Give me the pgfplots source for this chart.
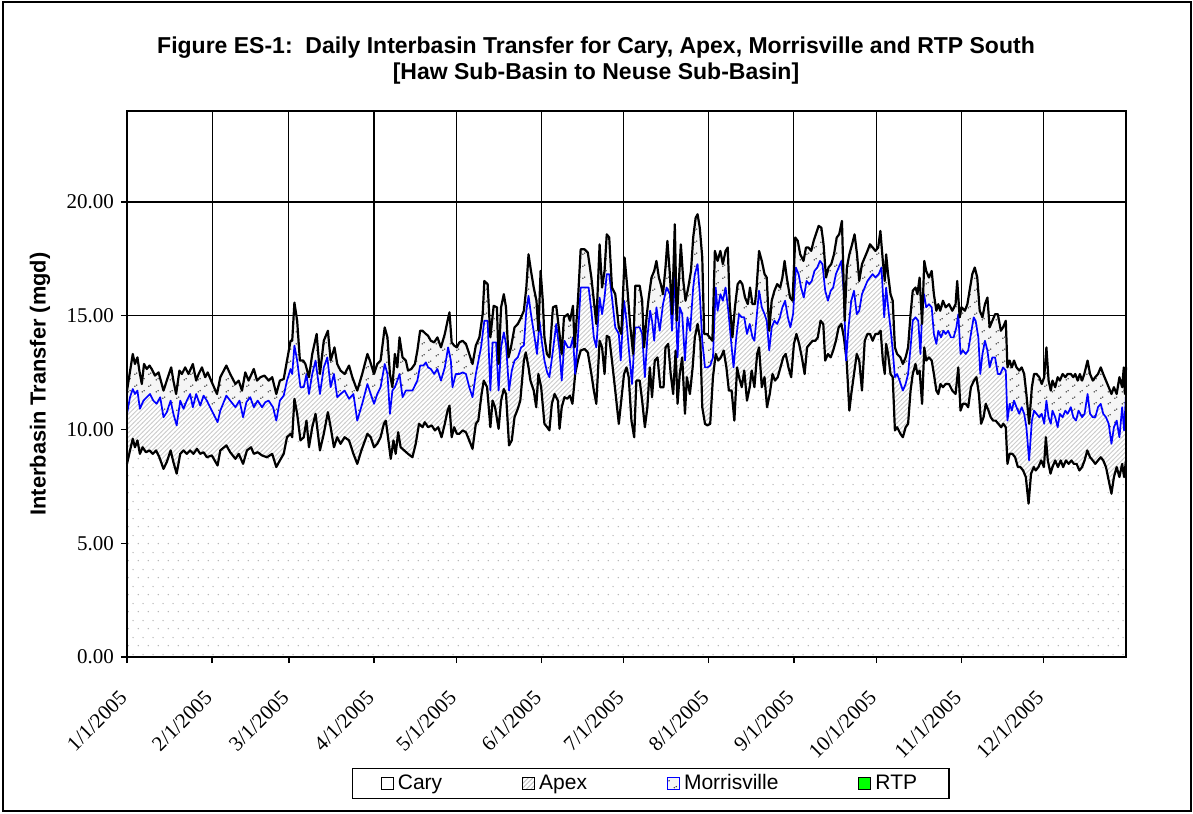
\documentclass[border=0pt]{standalone}
\usepackage{fontspec}
\setmainfont{Liberation Serif}
\setsansfont{Liberation Sans}
\usepackage{pgfplots}
\pgfplotsset{compat=1.18}
\usepackage{pgfplotstable}
\usetikzlibrary{patterns}

\pgfdeclarepatternformonly{carydots}{\pgfqpoint{0bp}{0bp}}{\pgfqpoint{4.85bp}{8.3bp}}{\pgfqpoint{4.85bp}{8.3bp}}{%
  \pgfpathcircle{\pgfqpoint{1.2bp}{1.2bp}}{0.38bp}%
  \pgfpathcircle{\pgfqpoint{3.625bp}{5.35bp}}{0.38bp}%
  \pgfusepath{fill}}
\pgfdeclarepatternformonly{apexhatch}{\pgfqpoint{-0.5bp}{-0.5bp}}{\pgfqpoint{2.8bp}{2.8bp}}{\pgfqpoint{2.3bp}{2.3bp}}{%
  \pgfsetlinewidth{0.45bp}%
  \pgfpathmoveto{\pgfqpoint{-0.1bp}{-0.1bp}}%
  \pgfpathlineto{\pgfqpoint{2.4bp}{2.4bp}}%
  \pgfusepath{stroke}}
\pgfdeclarepatternformonly{morrmarks}{\pgfqpoint{0bp}{0bp}}{\pgfqpoint{7bp}{6bp}}{\pgfqpoint{7bp}{6bp}}{%
  \pgfpathcircle{\pgfqpoint{1.2bp}{1.2bp}}{0.4bp}%
  \pgfpathcircle{\pgfqpoint{2.2bp}{1.8bp}}{0.4bp}%
  \pgfpathcircle{\pgfqpoint{4.7bp}{4.2bp}}{0.4bp}%
  \pgfpathcircle{\pgfqpoint{5.7bp}{4.8bp}}{0.4bp}%
  \pgfusepath{fill}}

% cumulative: Cary + Apex + Morrisville (+RTP)
\pgfplotstableread{
day val
0 11.71
2.1 13.32
2.9 12.88
3.8 13.17
4.5 12.59
5.4 12.00
6.2 12.88
7.2 12.66
8.2 12.81
9.0 12.66
10.2 12.37
11.5 12.51
13.3 11.71
14.5 12.15
16.1 12.73
16.9 12.15
17.9 11.56
19.1 12.59
20.0 12.44
21.2 12.73
22.4 12.44
24.0 12.88
25.2 12.15
26.1 12.44
27.3 12.73
28.5 12.30
29.4 12.51
30.9 12.08
32.8 11.56
34.0 12.30
36.2 12.81
37.6 12.44
39.5 12.00
40.7 12.15
41.9 11.71
43.1 12.51
44.3 12.15
46.2 12.66
47.4 12.15
48.6 12.30
50.1 12.37
51.6 12.15
52.9 12.30
54.4 11.56
55.7 12.15
57.1 12.22
58.3 13.03
59.6 13.90
60.2 13.90
61.0 15.58
62.0 14.78
63.0 13.03
64.2 13.03
65.0 12.88
66.3 12.30
67.5 13.32
69.1 14.20
70.3 12.44
71.7 13.90
73.2 14.34
74.2 13.03
75.6 13.61
76.6 12.88
77.8 12.59
79.3 12.44
80.9 12.81
82.1 12.30
83.9 11.71
85.7 12.44
87.6 13.32
88.5 13.03
90.0 12.44
91.2 12.88
92.4 13.03
93.9 14.49
94.9 14.05
95.8 12.44
96.7 11.86
97.6 13.32
98.5 12.73
99.3 14.05
100.4 13.17
101.6 13.03
102.4 12.59
103.6 12.66
104.9 12.88
105.8 13.47
106.8 14.34
107.7 14.34
108.9 14.20
109.7 14.12
110.7 13.90
111.9 13.83
113.1 14.05
114.4 13.61
115.8 14.20
116.8 14.78
117.5 15.15
118.3 13.83
119.2 13.69
120.2 13.61
121.1 13.83
122.3 13.90
123.5 13.76
124.7 13.32
125.9 12.88
127.1 13.69
128.4 14.05
129.6 15.07
130.2 16.53
131.4 16.39
132.4 14.05
133.6 15.44
134.8 15.37
135.4 12.88
136.3 15.37
137.3 15.95
138.1 15.37
139.0 13.17
139.9 13.61
141.2 14.49
142.4 14.64
143.6 14.93
144.6 15.22
145.5 16.24
146.3 17.70
147.2 16.97
148.2 16.24
149.2 15.66
149.9 14.34
150.7 16.97
151.5 15.66
152.1 14.05
153.0 13.32
153.9 13.17
155.2 15.37
156.4 15.44
157.6 14.20
158.4 13.32
159.2 14.93
160.6 15.07
161.4 14.78
162.5 15.44
163.1 13.61
164.3 15.66
165.3 17.92
166.7 17.92
167.9 17.78
169.2 16.68
170.1 15.66
171.0 14.64
172.2 18.14
173.1 16.24
174.0 16.97
174.8 18.58
175.7 18.44
176.7 16.24
177.9 15.95
179.2 14.49
180.1 14.20
181.3 17.56
182.3 16.24
183.3 14.64
184.4 13.32
185.2 16.32
186.8 16.32
187.7 15.66
188.4 13.61
189.3 14.93
190.1 15.80
191.1 16.68
192.1 16.97
192.9 17.41
193.8 16.68
194.5 16.39
195.3 15.95
196.2 17.12
196.9 18.29
197.8 16.83
198.6 15.07
199.6 19.02
200.3 14.78
201.1 16.53
201.8 18.14
202.7 16.53
203.5 15.66
204.5 16.24
205.5 16.97
206.3 18.44
207.2 19.31
207.9 19.46
208.7 18.87
209.6 17.56
210.3 14.20
211.3 14.20
212.3 14.05
213.3 13.90
214.2 17.85
215.2 17.41
216.2 17.85
217.1 17.27
218.1 17.85
218.9 18.00
219.6 15.51
220.6 14.05
221.5 15.37
222.5 16.39
223.4 16.53
224.2 16.39
225.2 15.80
226.2 15.51
227.0 16.24
227.9 15.51
228.8 15.51
229.4 16.24
230.3 17.85
231.3 17.41
232.3 16.83
233.1 16.68
234.0 14.34
234.9 15.66
235.9 16.10
236.9 16.39
238.0 16.24
238.8 16.68
239.6 17.41
240.4 16.68
241.6 15.80
242.5 15.66
243.5 18.44
244.4 18.29
245.3 17.70
246.5 17.41
247.4 18.00
248.3 18.00
249.3 17.85
250.2 18.29
251.0 18.58
252.0 18.95
253.0 18.87
253.8 18.14
254.7 16.68
255.6 17.12
256.6 17.27
257.6 17.70
258.6 18.44
259.5 18.58
260.5 19.17
261.5 14.78
262.3 17.12
263.2 17.70
264.2 18.14
265.1 18.58
266.0 17.70
266.8 16.53
267.8 17.27
268.8 17.56
269.8 17.85
270.7 18.14
271.7 18.00
272.7 17.85
273.7 18.00
274.5 18.73
275.4 17.41
276.1 16.53
276.6 17.70
277.3 16.83
278.2 15.95
279.0 15.66
279.8 13.61
280.6 13.32
281.8 13.17
282.7 12.88
283.7 13.17
284.6 13.61
285.5 15.07
286.3 16.10
287.3 16.24
288.0 15.95
288.8 16.68
289.7 14.64
290.5 17.41
291.2 16.97
292.2 16.68
293.2 16.97
294.0 15.95
294.9 15.22
295.6 15.51
296.3 15.22
297.3 15.66
298.3 15.37
299.5 15.51
300.7 15.22
301.9 15.51
302.5 16.53
303.4 14.93
304.1 15.37
305.3 15.22
306.2 15.51
307.0 16.10
308.0 16.83
308.9 17.12
309.8 16.68
310.7 15.22
311.7 14.93
312.6 15.51
313.5 15.80
314.3 14.49
315.3 14.78
316.3 15.07
317.3 15.07
318.4 14.34
319.2 14.49
320.2 14.78
320.8 12.73
321.6 13.03
322.4 12.73
323.2 13.03
324.1 12.73
325.1 12.59
326.0 12.73
326.9 12.44
327.7 11.56
328.7 10.25
329.7 11.86
330.5 12.44
331.4 12.44
332.4 12.30
333.3 12.00
334.2 12.30
335.0 13.61
335.8 12.15
336.6 11.71
337.2 12.15
338.2 11.86
339.1 12.30
339.9 12.15
340.9 12.44
341.9 12.30
342.7 12.44
343.9 12.44
344.8 12.30
345.5 12.44
346.4 12.15
347.2 12.44
348.0 12.15
348.8 12.44
350.0 13.03
350.9 12.44
351.9 12.15
352.8 12.30
353.8 12.44
354.8 12.73
355.7 12.44
356.7 12.15
357.7 11.86
358.7 11.56
359.6 11.86
360.6 11.56
361.6 12.30
362.6 11.86
363.2 12.73
363.6 11.56
364.0 12.73
}\totaltab

% cumulative: Cary + Apex
\pgfplotstableread{
day val
0 10.69
1.1 11.42
2.1 11.78
2.9 11.56
3.8 11.71
4.7 10.91
6.0 11.27
7.2 11.42
8.4 11.56
9.6 11.27
10.8 11.13
12.1 11.42
13.3 10.54
14.5 10.76
15.9 11.27
16.9 10.69
18.1 10.18
19.4 11.27
20.6 10.91
21.8 11.27
23.0 11.56
24.0 10.98
25.2 11.56
26.7 11.05
27.9 11.49
29.1 11.27
30.9 10.83
33.0 10.32
34.0 10.83
36.2 11.49
37.6 11.27
39.5 10.98
41.0 11.27
42.3 10.54
43.5 11.20
44.9 11.42
46.2 10.98
47.6 11.27
49.2 10.98
50.4 11.20
51.6 11.27
53.2 10.98
54.4 10.39
55.7 11.27
57.1 11.49
58.3 12.15
59.6 12.66
60.2 12.44
61.0 13.69
62.0 13.03
63.2 11.86
64.4 11.86
65.4 12.44
66.3 11.56
67.5 12.44
68.7 13.03
70.3 11.56
71.7 12.73
73.0 13.17
74.2 11.86
75.4 12.44
76.6 11.42
77.8 11.56
79.3 11.71
80.9 11.35
82.5 11.56
83.9 10.39
85.7 11.13
87.6 12.00
88.8 11.56
90.0 11.13
91.2 11.56
92.4 11.86
93.9 12.88
94.9 12.44
95.8 10.69
96.7 11.71
97.6 11.86
98.5 12.15
99.3 12.44
100.4 11.42
101.6 11.71
102.8 11.71
104.0 11.71
105.8 12.15
106.8 12.81
108.0 12.81
108.9 12.95
109.7 12.73
110.7 12.66
111.9 12.44
113.1 12.66
114.4 12.15
115.8 12.73
117.0 13.61
118.0 13.03
118.6 11.86
119.8 12.44
121.1 12.44
122.3 12.51
123.5 12.44
124.7 11.86
125.9 11.42
127.1 12.44
129.0 13.61
130.2 14.78
131.4 14.78
132.4 11.71
133.2 13.83
134.5 13.83
135.4 11.71
136.3 13.61
137.3 14.27
138.1 13.76
139.2 11.71
140.2 12.59
141.2 13.03
142.4 13.17
143.6 13.61
144.6 13.69
145.5 15.22
146.3 15.88
147.2 15.07
148.5 14.05
149.4 13.32
150.3 14.78
151.1 13.90
152.1 13.03
153.1 12.51
153.9 12.30
155.2 13.47
156.4 14.64
157.6 13.47
158.4 12.15
159.4 13.90
160.6 13.61
161.6 13.61
162.5 14.05
163.3 12.44
164.3 14.05
165.3 16.24
166.7 16.24
168.2 16.24
169.2 15.22
170.1 14.05
171.0 13.61
172.2 15.80
173.1 15.07
174.0 15.80
174.8 16.83
175.7 16.83
176.7 15.80
177.9 14.49
179.2 14.20
179.9 13.03
181.1 15.66
182.0 14.78
182.8 13.61
184.0 12.00
185.2 14.49
186.8 14.49
187.7 14.20
188.7 12.30
189.6 14.05
190.6 15.22
191.3 14.78
192.1 13.90
192.9 15.37
194.1 14.34
195.3 15.51
196.6 16.24
197.8 15.95
198.6 14.34
199.6 16.83
200.6 13.17
201.4 15.37
202.3 15.07
203.3 13.03
204.2 14.93
205.2 14.34
206.3 16.24
206.9 16.83
207.9 17.27
208.7 15.95
209.6 13.90
210.6 12.73
211.5 12.73
212.5 12.81
213.5 13.17
214.5 16.24
215.2 15.22
216.2 15.95
217.1 15.66
218.1 16.24
219.1 15.22
220.1 13.90
221.0 12.73
222.0 14.05
223.0 15.07
224.0 14.93
224.9 14.93
225.9 14.20
226.9 14.64
227.9 14.05
228.6 13.90
229.4 14.93
230.3 16.10
231.3 15.37
232.3 15.07
233.1 14.78
234.0 13.47
234.9 14.49
235.9 14.78
236.9 14.64
237.9 14.93
238.8 15.37
239.8 15.66
240.8 14.93
241.7 14.49
242.7 15.07
243.7 17.12
244.7 16.83
245.6 16.24
246.6 15.80
247.6 16.53
248.6 16.39
249.5 16.53
250.5 16.97
251.5 17.12
252.5 17.41
253.4 17.27
254.4 16.10
255.4 15.66
256.4 16.10
257.3 16.24
258.3 16.83
259.3 17.12
260.3 17.41
261.2 15.95
262.0 13.03
262.9 14.49
263.9 15.66
264.9 16.10
265.9 15.07
266.8 15.22
267.8 15.95
268.8 16.24
269.8 16.53
270.7 16.68
271.7 16.83
272.7 16.68
273.9 16.83
274.9 17.12
275.9 14.93
276.6 16.24
277.6 15.07
278.3 14.34
279.0 13.47
279.8 12.30
280.6 12.44
281.5 12.15
282.7 11.71
283.7 12.00
284.6 12.44
285.5 13.61
286.3 14.78
287.3 14.93
288.3 14.78
289.1 13.32
289.7 15.07
290.4 15.95
291.2 15.37
292.2 15.51
293.2 15.37
294.0 14.20
294.9 13.76
295.6 14.34
296.6 14.05
297.5 14.34
298.3 14.20
299.2 14.34
300.2 14.05
301.2 14.05
302.2 14.49
302.9 15.07
303.7 13.32
304.6 13.47
305.6 13.32
306.5 13.47
307.5 14.20
308.5 14.93
309.2 14.78
310.2 14.05
310.9 12.44
311.7 13.32
312.6 13.90
313.5 13.47
314.3 12.73
315.3 13.17
316.3 13.17
317.3 12.44
318.2 12.44
319.2 12.73
320.2 12.59
320.8 10.39
321.6 11.13
322.4 10.83
323.2 11.27
324.1 10.98
325.1 10.69
326.0 10.98
326.9 10.69
327.7 10.10
328.7 8.64
329.7 10.39
330.5 10.83
331.4 10.69
332.4 10.54
333.3 10.69
334.2 10.25
335.0 11.27
335.8 10.54
336.6 10.25
337.2 10.83
338.2 10.54
339.1 10.10
339.9 10.69
340.9 10.54
341.9 10.83
342.7 10.69
343.9 10.98
344.8 10.54
345.8 10.39
346.7 10.83
348.0 10.54
348.9 10.69
350.0 11.56
350.9 10.69
351.9 10.54
352.8 10.54
353.8 10.98
354.8 11.13
355.7 10.69
356.7 10.54
357.7 10.25
358.7 9.37
359.6 10.10
360.6 10.39
361.6 9.66
362.6 10.98
363.3 9.96
364.0 11.56
}\apextab

% Cary
\pgfplotstableread{
day val
0 8.49
1.1 9.08
2.1 9.59
2.9 9.22
3.8 9.52
4.7 8.93
5.7 9.22
6.9 9.00
8.2 9.08
9.4 8.93
10.6 9.08
11.8 8.78
13.3 8.27
14.5 8.57
15.9 9.08
16.9 8.57
18.1 8.06
19.4 8.93
20.6 9.08
21.8 8.93
23.0 9.08
24.2 8.93
25.5 9.15
26.7 8.93
27.9 9.00
29.1 8.78
30.9 8.86
33.0 8.42
34.0 9.08
36.2 9.30
37.6 9.00
39.5 8.71
40.7 8.93
42.3 8.49
43.7 9.08
45.2 9.22
46.2 8.93
47.6 9.00
49.2 8.86
51.0 8.78
52.9 8.93
54.4 8.35
55.7 8.64
57.1 8.93
58.3 9.66
59.6 9.81
60.2 9.66
61.0 11.35
62.0 10.69
63.2 9.52
64.4 9.66
65.4 10.39
66.3 9.22
67.5 10.10
68.7 10.69
70.3 9.08
71.7 9.81
73.2 10.76
74.2 10.10
75.4 9.22
76.6 9.66
77.8 9.37
79.3 9.66
80.9 9.52
82.5 8.93
83.9 8.49
85.4 9.08
87.6 9.81
88.8 9.66
90.0 9.22
91.2 9.37
92.4 9.66
93.6 10.25
94.3 10.39
95.1 9.66
96.1 8.71
97.1 9.52
97.9 8.93
98.8 9.88
99.7 9.22
101.0 9.08
102.4 8.93
104.0 8.78
105.2 9.37
106.4 10.25
107.7 10.10
108.5 10.32
109.7 10.10
111.0 10.18
112.2 9.96
113.4 10.10
114.6 9.66
115.8 10.25
116.8 10.83
117.5 11.05
118.3 9.66
119.2 10.10
120.2 9.81
121.1 9.81
122.3 9.96
123.5 9.88
124.7 9.52
125.9 9.15
127.1 10.25
128.0 10.39
129.2 11.56
130.0 12.15
131.2 11.86
132.4 10.10
133.2 11.27
134.1 10.98
135.4 10.03
136.3 11.27
137.3 11.78
138.1 11.56
139.2 9.30
140.2 9.52
141.2 10.54
142.4 10.91
143.3 11.27
144.6 13.03
145.3 13.39
146.3 12.73
147.0 12.15
148.2 11.71
149.1 10.98
149.9 12.44
150.9 11.86
152.1 10.25
153.1 10.10
153.9 9.96
154.8 11.13
155.8 11.56
157.0 11.27
157.6 10.03
158.4 10.98
159.4 11.42
160.4 11.35
161.4 11.49
162.3 11.13
163.3 12.44
164.3 13.03
165.3 13.47
166.7 13.54
167.9 13.39
169.2 12.44
170.1 11.71
171.0 11.13
172.2 13.90
173.1 13.61
174.0 12.44
174.8 14.12
175.7 14.05
176.7 13.03
177.9 11.71
179.2 10.25
181.1 12.44
182.0 12.73
182.8 12.30
183.8 10.39
184.8 9.66
185.6 12.15
186.8 12.15
187.7 11.27
188.7 10.10
189.6 10.98
190.5 12.73
191.3 11.42
192.3 13.03
193.3 13.17
194.3 11.86
195.5 11.86
196.2 13.61
197.2 13.76
198.1 12.44
199.0 11.56
199.9 13.47
200.6 11.13
201.4 12.44
202.3 13.17
203.3 10.69
204.0 12.30
205.1 11.56
206.1 12.73
206.9 14.05
207.9 14.64
208.9 13.90
209.6 10.98
210.6 10.25
211.5 10.18
212.5 10.25
213.5 12.30
214.5 13.32
215.4 13.03
216.4 13.17
217.4 13.47
218.4 12.73
219.3 11.71
220.3 11.71
221.3 10.39
222.3 12.73
223.0 12.30
224.0 11.86
224.9 12.59
225.9 11.27
226.9 11.86
227.6 12.59
228.6 11.86
229.6 13.32
230.3 13.61
231.3 11.86
232.3 12.30
233.2 10.98
234.2 11.56
235.2 12.44
236.1 12.15
237.1 12.30
238.1 12.73
239.1 13.17
240.0 13.32
241.0 12.73
242.0 12.30
243.0 13.76
243.9 14.20
244.9 13.76
245.9 13.17
246.9 12.44
247.8 13.61
248.8 13.76
249.8 13.90
250.8 13.90
251.7 14.05
252.7 14.78
253.7 14.64
254.4 13.03
255.4 13.32
256.4 13.17
257.3 13.47
258.3 13.90
259.3 14.49
260.3 14.64
261.2 14.05
262.2 13.03
263.2 10.83
263.9 11.56
264.9 12.44
265.9 13.32
266.8 13.03
267.8 11.71
268.8 13.90
269.8 14.20
270.7 14.20
271.7 13.90
272.7 14.20
273.7 14.20
274.6 14.34
275.4 13.03
276.1 12.44
276.6 13.76
277.3 13.32
278.2 12.44
279.0 12.30
279.8 9.96
280.6 10.10
281.8 9.81
282.7 9.66
283.7 10.10
284.6 10.25
285.5 11.71
286.3 12.44
287.3 12.88
288.0 12.44
288.8 12.59
289.7 11.13
290.5 13.61
291.2 13.03
292.2 13.17
293.2 13.03
294.0 12.44
294.9 11.71
295.6 11.56
296.4 12.00
297.3 11.86
298.3 12.00
299.5 12.00
300.7 11.71
301.9 11.56
302.9 12.73
303.7 10.83
304.6 11.13
305.6 11.13
306.5 10.98
307.5 11.86
308.6 12.15
309.5 12.30
310.4 11.56
311.2 10.25
312.1 10.54
312.9 11.13
313.9 10.83
314.7 10.54
315.6 10.39
316.5 10.39
317.5 10.25
318.5 10.10
319.3 10.25
320.2 10.10
320.8 8.49
321.6 8.93
322.6 8.93
323.6 8.78
324.6 8.35
325.5 8.35
326.5 8.20
327.5 7.91
328.5 6.74
329.4 8.06
330.4 8.35
331.1 8.20
332.1 8.35
333.1 8.64
334.1 8.35
334.8 9.66
335.5 8.64
336.5 8.06
337.2 8.35
338.2 8.64
339.2 8.35
340.2 8.64
341.1 8.35
342.1 8.64
343.1 8.49
344.1 8.64
345.0 8.49
346.0 8.49
347.0 8.20
348.0 8.35
348.9 8.64
349.9 9.08
350.9 8.78
351.9 8.64
352.8 8.49
353.8 8.64
354.8 8.78
355.7 8.64
356.7 8.35
357.7 7.76
358.7 7.18
359.6 7.91
360.6 8.35
361.6 7.91
362.6 8.49
363.3 7.91
364.0 8.64
}\carytab

\begin{document}
\begin{tikzpicture}
\fill[white] (-63.5bp,-78.5bp) rectangle (533bp,328.5bp);
\useasboundingbox (-63.5bp,-78.5bp) rectangle (533bp,328.5bp);
\draw[line width=1.1bp] (-62bp,-77bp) rectangle (532bp,327.5bp);
\begin{axis}[
  at={(0,0)}, anchor=south west,
  scale only axis, width=499.5bp, height=273bp,
  xmin=0, xmax=364, ymin=0, ymax=24,
  clip=false,
  xtick={0,31,59,90,120,151,181,212,243,273,304,334},
  xticklabels={1/1/2005,2/1/2005,3/1/2005,4/1/2005,5/1/2005,6/1/2005,7/1/2005,8/1/2005,9/1/2005,10/1/2005,11/1/2005,12/1/2005},
  ytick={0,5,10,15,20},
  yticklabels={0.00,5.00,10.00,15.00,20.00},
  grid=major,
  major grid style={black, line width=0.55bp},
  tick align=outside, tick pos=left, major tick length=3bp,
  tick style={black, line width=0.6bp},
  axis line style={line width=0.9bp},
  xticklabel style={font=\rmfamily\fontsize{10.5bp}{12bp}\selectfont, yshift=-15bp, xshift=-1bp, rotate=45, anchor=east, inner sep=1bp},
  yticklabel style={font=\rmfamily\fontsize{10.5bp}{12bp}\selectfont},
  ylabel={Interbasin Transfer (mgd)},
  ylabel style={font=\sffamily\bfseries\fontsize{10.9bp}{12bp}\selectfont, at={(rel axis cs:-0.087,0.5)}, anchor=center},
  legend columns=4,
  legend style={at={(rel axis cs:0.5245,-0.2317)}, anchor=center, draw=black, line width=0.6bp,
    font=\sffamily\fontsize{10.5bp}{12bp}\selectfont, inner xsep=14bp, inner ysep=1bp,
    /tikz/every even column/.append style={column sep=38bp}},
  legend image code/.code={\draw[#1, line width=0.5bp] (0bp,-3bp) rectangle (6bp,3bp);},
]
% areas
\addplot[forget plot, draw=none, fill=gray!8, postaction={pattern=morrmarks, pattern color=gray!40!black}] table[x=day,y=val] {\totaltab} \closedcycle;
\addplot[forget plot, draw=none, fill=white, postaction={pattern=apexhatch, pattern color=gray!40}] table[x=day,y=val] {\apextab} \closedcycle;
\addplot[forget plot, draw=none, fill=white, postaction={pattern=carydots, pattern color=gray!60}] table[x=day,y=val] {\carytab} \closedcycle;
% boundary lines
\addplot[forget plot, black, line width=1.1bp, line join=round] table[x=day,y=val] {\carytab};
\addplot[forget plot, blue, line width=0.85bp, line join=round] table[x=day,y=val] {\apextab};
\addplot[forget plot, black, line width=1.1bp, line join=round] table[x=day,y=val] {\totaltab};
\draw[line width=0.9bp] (rel axis cs:0,0) rectangle (rel axis cs:1,1);
% legend
\addlegendimage{fill=white, draw=black}
\addlegendentry{Cary}
\addlegendimage{fill=white, draw=black, postaction={pattern=apexhatch, pattern color=gray!50}}
\addlegendentry{Apex}
\addlegendimage{fill=gray!8, draw=blue, postaction={pattern=morrmarks, pattern color=gray!40!black}}
\addlegendentry{Morrisville}
\addlegendimage{fill=green, draw=black}
\addlegendentry{RTP}
\node[align=center, font=\sffamily\bfseries\fontsize{11.5bp}{13bp}\selectfont] at (rel axis cs:0.4695,1.0916)
  {Figure ES-1:\ \ Daily Interbasin Transfer for Cary, Apex, Morrisville and RTP South\\{[Haw Sub-Basin to Neuse Sub-Basin]}};
\end{axis}
\end{tikzpicture}
\end{document}
